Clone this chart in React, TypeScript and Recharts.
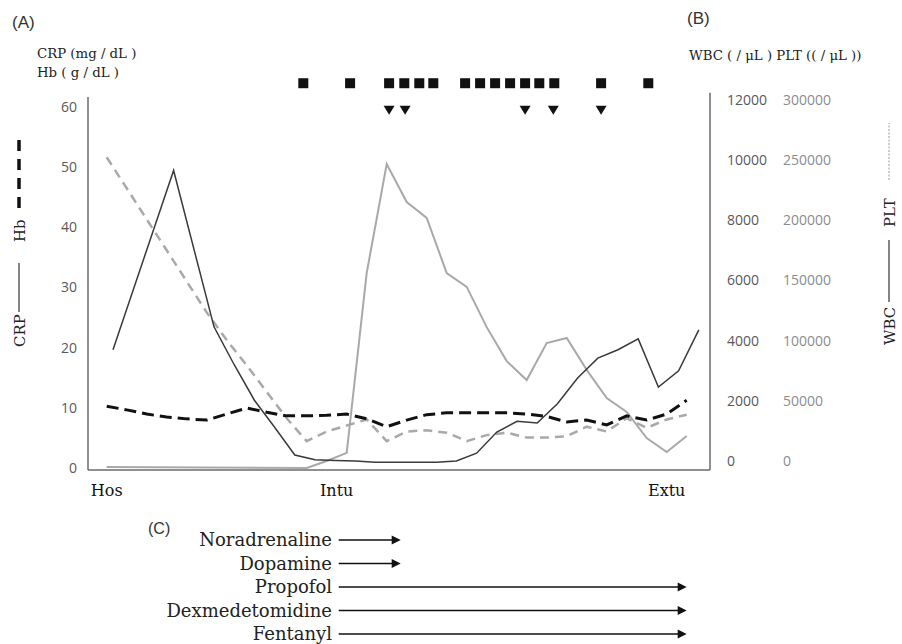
import React from "react";
import {
  ComposedChart,
  Line,
  Scatter,
  XAxis,
  YAxis,
  ReferenceLine,
} from "recharts";

// day index along the course (Hos = 0)
const days = [
  0, 1, 2, 3, 4, 5, 6, 7, 8, 9, 10, 11, 12, 13, 14, 15, 16, 17, 18, 19, 20,
  21, 22, 23, 24, 25, 26, 27, 28, 29,
];

// CRP (mg/dL) – plotted on its own, slightly shifted time axis
const crp = [
  20.0, null, null, 49.8, null, 23.8, 17.5, 11.6, 7.1, 2.5, 1.7, 1.6, 1.5, 1.3,
  1.3, 1.3, 1.3, 1.5, 2.8, 6.3, 8.1, 7.8, 11.0, 15.3, 18.6, 20.0, 21.8, 13.8,
  16.5, 23.3,
];

// Hb (g/dL)
const hb = [
  10.6, 10.0, 9.3, 8.8, 8.5, 8.3, 9.3, 10.3, 9.6, 9.0, 9.0, 9.1, 9.3, 8.5, 7.2,
  8.3, 9.2, 9.5, 9.5, 9.5, 9.5, 9.3, 8.9, 8.0, 8.3, 7.5, 9.0, 8.3, 9.3, 11.6,
];

// WBC (/μL)
const wbc = [
  100, null, null, null, null, null, null, null, null, null, 70, 300, 570,
  6550, 10170, 8910, 8380, 6550, 6090, 4750, 3620, 2990, 4220, 4390, 3330,
  2390, 1930, 1060, 600, 1130,
];

// PLT (/μL)
const plt = [
  260000, null, null, null, null, 131000, 108000, 87000, 65000, 43000, 24000,
  32000, 37000, 42000, 24000, 32000, 33000, 31000, 24000, 29000, 31000, 27000,
  27000, 28000, 36000, 32000, 43000, 35000, 42000, 46000,
];

const xTickDays = [0, 11.5, 28];
const xTickLabels = ["Hos", "Intu", "Extu"];
const leftTicks = [0, 10, 20, 30, 40, 50, 60];
const wbcTicks = [0, 2000, 4000, 6000, 8000, 10000, 12000];
const pltTicks = [0, 50000, 100000, 150000, 200000, 250000, 300000];

// event markers above the plot
const squareDays = [
  9.83, 12.17, 14.12, 14.88, 15.63, 16.33, 17.92, 18.67, 19.42, 20.17, 20.92,
  21.63, 22.38, 24.72, 27.08,
];
const triangleDays = [14.12, 14.92, 20.92, 22.33, 24.72];

// drugs given (start / stop in days)
const drugNames = [
  "Noradrenaline",
  "Dopamine",
  "Propofol",
  "Dexmedetomidine",
  "Fentanyl",
];
const drugStart = [11.6, 11.6, 11.6, 11.6, 11.6];
const drugEnd = [14.7, 14.7, 29, 29, 29];

const PLOT_LEFT = 88;
const PLOT_RIGHT = 710;
const X_MIN = -0.935;
const X_MAX = 30.165;
const XB_MIN = -1.238;
const XB_MAX = 29.554;
const Y_MAX = 66;
const SQUARE_ROW = 64.3;
const TRIANGLE_ROW = 59.8;

const AXIS_COLOR = "#6b6b6b";
const SERIF = "'DejaVu Serif', serif";
const SANS = "'Open Sans', sans-serif";

const rows = days.map((d, i) => ({
  day: d,
  crp: crp[i],
  hb: hb[i],
  wbc: wbc[i],
  plt: plt[i],
}));

const squares = squareDays.map((d) => ({ day: d, row: SQUARE_ROW }));
const triangles = triangleDays.map((d) => ({ day: d, row: TRIANGLE_ROW }));

const dayToPx = (d: number) =>
  PLOT_LEFT + ((d - X_MIN) / (X_MAX - X_MIN)) * (PLOT_RIGHT - PLOT_LEFT);

const LeftTick = ({ x, y, payload }: any) => (
  <text x={x} y={y - 2} dy="0.35em" textAnchor="end" fontFamily={SANS} fontSize={14} fill="#595959">
    {payload.value}
  </text>
);

const makeRightTick = (color: string) => ({ x, y, payload }: any) => (
  <text x={x} y={y - 9} dy="0.35em" textAnchor="start" fontFamily={SANS} fontSize={14} fill={color}>
    {payload.value}
  </text>
);

const BottomTick = ({ x, y, payload }: any) => {
  const idx = xTickDays.indexOf(payload.value);
  return (
    <text x={x} y={y + 24} textAnchor="middle" fontFamily={SERIF} fontSize={16} fill="#111">
      {xTickLabels[idx]}
    </text>
  );
};

const SquareMark = ({ cx, cy }: any) => (
  <rect x={cx - 5} y={cy - 5} width={10} height={10} fill="#111" />
);

const TriangleMark = ({ cx, cy }: any) => (
  <polygon
    points={`${cx - 5.5},${cy - 4.5} ${cx + 5.5},${cy - 4.5} ${cx},${cy + 4.5}`}
    fill="#111"
  />
);

export default function App() {
  return (
    <div
      style={{
        position: "absolute",
        left: 0,
        top: 0,
        width: 902,
        height: 644,
        background: "#fff",
        overflow: "hidden",
      }}
    >
      <ComposedChart
        width={902}
        height={500}
        data={rows}
        margin={{ top: 73, right: 56, bottom: 0, left: 0 }}
      >
        <XAxis
          xAxisId="a"
          dataKey="day"
          type="number"
          domain={[X_MIN, X_MAX]}
          allowDataOverflow
          ticks={xTickDays}
          tick={BottomTick}
          tickLine={false}
          tickSize={0}
          height={30}
          axisLine={{ stroke: AXIS_COLOR, strokeWidth: 1.5 }}
        />
        <XAxis
          xAxisId="b"
          dataKey="day"
          type="number"
          domain={[XB_MIN, XB_MAX]}
          allowDataOverflow
          hide
        />
        <YAxis
          yAxisId="left"
          width={88}
          domain={[0, Y_MAX]}
          ticks={leftTicks}
          tick={LeftTick}
          tickLine={false}
          tickSize={0}
          tickMargin={11}
          axisLine={false}
        />
        {/* right1 = WBC (next to the plot), right2 = PLT (outer) */}
        <YAxis
          yAxisId="right1"
          orientation="right"
          width={56}
          domain={[0, Y_MAX * 200]}
          ticks={wbcTicks}
          tick={makeRightTick("#595959")}
          tickLine={false}
          tickSize={0}
          tickMargin={17}
          axisLine={false}
        />
        <YAxis
          yAxisId="right2"
          orientation="right"
          width={80}
          domain={[0, Y_MAX * 5000]}
          ticks={pltTicks}
          tick={makeRightTick("#8c8c8c")}
          tickLine={false}
          tickSize={0}
          tickMargin={17}
          axisLine={false}
        />
        <YAxis yAxisId="mk" dataKey="row" domain={[0, Y_MAX]} hide />

        {/* left and right frame lines */}
        <ReferenceLine
          xAxisId="a"
          yAxisId="left"
          segment={[
            { x: X_MIN, y: 0 },
            { x: X_MIN, y: 62 },
          ]}
          stroke={AXIS_COLOR}
          strokeWidth={1.5}
          ifOverflow="visible"
        />
        <ReferenceLine
          xAxisId="a"
          yAxisId="left"
          segment={[
            { x: X_MAX, y: 0 },
            { x: X_MAX, y: 62.7 },
          ]}
          stroke={AXIS_COLOR}
          strokeWidth={1.5}
          ifOverflow="visible"
        />

        <Line
          xAxisId="a"
          yAxisId="right2"
          dataKey="plt"
          stroke="#a9a9a9"
          strokeWidth={2.5}
          strokeDasharray="9 6"
          dot={false}
          connectNulls
          isAnimationActive={false}
        />
        <Line
          xAxisId="a"
          yAxisId="right1"
          dataKey="wbc"
          stroke="#a9a9a9"
          strokeWidth={2}
          dot={false}
          connectNulls
          isAnimationActive={false}
        />
        <Line
          xAxisId="a"
          yAxisId="left"
          dataKey="hb"
          stroke="#111"
          strokeWidth={3}
          strokeDasharray="12 6"
          dot={false}
          isAnimationActive={false}
        />
        <Line
          xAxisId="b"
          yAxisId="left"
          dataKey="crp"
          stroke="#3a3a3a"
          strokeWidth={1.5}
          dot={false}
          connectNulls
          isAnimationActive={false}
        />
        <Scatter
          xAxisId="a"
          yAxisId="mk"
          data={squares}
          dataKey="row"
          shape={SquareMark}
          isAnimationActive={false}
        />
        <Scatter
          xAxisId="a"
          yAxisId="mk"
          data={triangles}
          dataKey="row"
          shape={TriangleMark}
          isAnimationActive={false}
        />
      </ComposedChart>

      <svg
        width={902}
        height={644}
        style={{ position: "absolute", left: 0, top: 0, pointerEvents: "none" }}
      >
        {/* panel letters and unit headers */}
        <text x={12} y={28} fontFamily="'Liberation Sans', sans-serif" fontSize={17} fill="#333">
          (A)
        </text>
        <text x={687} y={24} fontFamily="'Liberation Sans', sans-serif" fontSize={17} fill="#333">
          (B)
        </text>
        <text x={37} y={58} fontFamily={SERIF} fontSize={13.3} fill="#222">
          CRP (mg / dL )
        </text>
        <text x={37} y={77} fontFamily={SERIF} fontSize={13.3} fill="#222">
          Hb ( g / dL )
        </text>
        <text x={689} y={60} fontFamily={SERIF} fontSize={13.3} fill="#222">
          WBC ( / μL ) PLT (( / μL ))
        </text>

        {/* left axis title: CRP —— Hb - - - */}
        <text x={25} y={347} transform="rotate(-90 25 347)" fontFamily={SERIF} fontSize={15} fill="#222">
          CRP
        </text>
        <line x1={19} y1={312} x2={19} y2={263} stroke="#333" strokeWidth={1.2} />
        <text x={25} y={242} transform="rotate(-90 25 242)" fontFamily={SERIF} fontSize={15} fill="#222">
          Hb
        </text>
        <line x1={19} y1={208} x2={19} y2={140} stroke="#111" strokeWidth={3.5} strokeDasharray="11 8" />

        {/* right axis title: WBC —— PLT ----- */}
        <text x={895} y={345} transform="rotate(-90 895 345)" fontFamily={SERIF} fontSize={15} fill="#222">
          WBC
        </text>
        <line x1={889} y1={302} x2={889} y2={240} stroke="#333" strokeWidth={1.2} />
        <text x={895} y={227} transform="rotate(-90 895 227)" fontFamily={SERIF} fontSize={15} fill="#222">
          PLT
        </text>
        <line x1={889} y1={180} x2={889} y2={123} stroke="#999" strokeWidth={1} strokeDasharray="2 1.5" />

        {/* (C) drug administration */}
        <text x={148} y={534} fontFamily="'Liberation Sans', sans-serif" fontSize={16} fill="#333">
          (C)
        </text>
        {drugNames.map((name, i) => {
          const cy = 540 + i * 23.5;
          const x1 = dayToPx(drugStart[i]);
          const x2 = dayToPx(drugEnd[i]);
          return (
            <g key={name}>
              <text x={332} y={cy + 6} textAnchor="end" fontFamily={SERIF} fontSize={18} fill="#222">
                {name}
              </text>
              <line x1={x1} y1={cy} x2={x2 - 7} y2={cy} stroke="#111" strokeWidth={1.5} />
              <polygon
                points={`${x2 - 9},${cy - 4.5} ${x2},${cy} ${x2 - 9},${cy + 4.5}`}
                fill="#111"
              />
            </g>
          );
        })}
      </svg>
    </div>
  );
}
